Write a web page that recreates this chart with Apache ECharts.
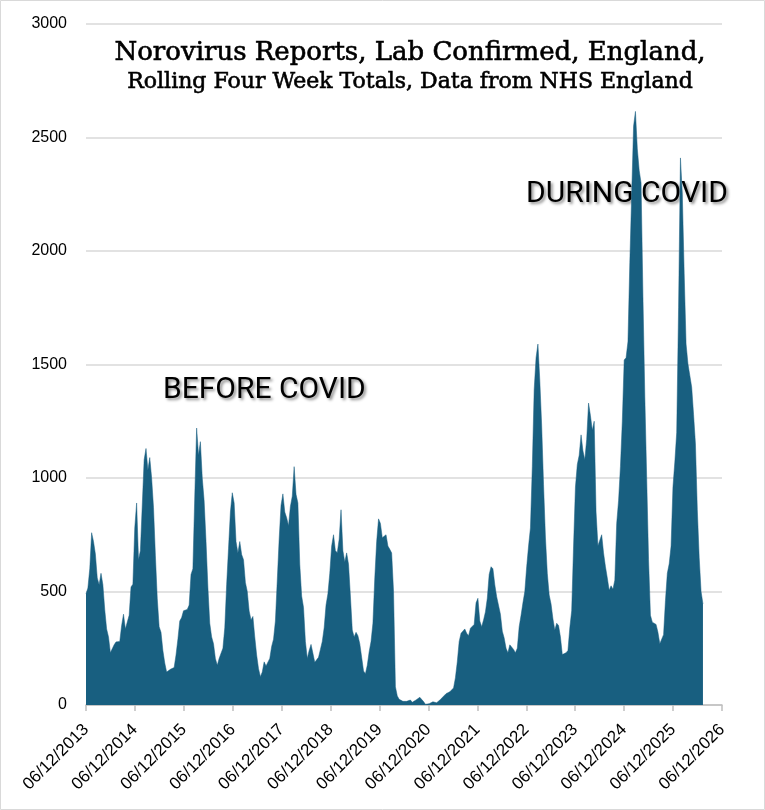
<!DOCTYPE html>
<html>
<head>
<meta charset="utf-8">
<title>Norovirus Reports</title>
<script src="https://cdn.jsdelivr.net/npm/echarts@6/dist/echarts.min.js"></script>
<style>
  html, body { margin: 0; padding: 0; background: #fff; }
  #chart { width: 765px; height: 810px; }
</style>
</head>
<body>
<div id="chart"></div>
<script>
// rolling four week totals, sampled every 14 days from 06/12/2013
var startYear = 2013;
var stepDays = 14;
var yTicks = [0, 500, 1000, 1500, 2000, 2500, 3000];
var cases = [
  490, 515, 600, 759, 720, 665, 560, 530, 580, 530,
  420, 335, 300, 230, 235, 265, 278, 276, 280, 350,
  400, 335, 340, 395, 520, 532, 780, 890, 640, 680,
  880, 1080, 1130, 1035, 1090, 1000, 870, 660, 470, 345,
  320, 240, 185, 145, 153, 157, 155, 165, 220, 290,
  370, 385, 415, 421, 421, 440, 575, 600, 920, 1220,
  1100, 1160, 1000, 900, 722, 520, 360, 300, 270, 205,
  175, 205, 208, 250, 340, 531, 690, 850, 935, 890,
  720, 670, 720, 663, 640, 540, 500, 414, 375, 390,
  300, 220, 160, 125, 145, 190, 172, 167, 205, 258,
  290, 370, 550, 730, 880, 930, 850, 825, 790, 875,
  920, 1050, 928, 890, 620, 480, 430, 280, 205, 240,
  267, 228, 188, 186, 210, 245, 280, 340, 440, 490,
  580, 700, 750, 680, 671, 730, 860, 680, 630, 670,
  620, 480, 330, 300, 320, 305, 270, 210, 150, 138,
  175, 235, 280, 360, 560, 720, 820, 800, 737, 740,
  750, 700, 686, 670, 500, 80, 40, 25, 20, 16,
  10, 16, 22, 22, 12, 15, 22, 28, 34, 28,
  15, 3, 5, 6, 10, 14, 13, 10, 16, 24,
  33, 41, 50, 57, 58, 51, 75, 120, 190, 280,
  316, 310, 335, 316, 305, 338, 343, 355, 450, 470,
  370, 345, 374, 410, 470, 575, 609, 600, 530, 477,
  470, 400, 325, 295, 250, 230, 265, 272, 245, 230,
  250, 345, 395, 450, 500, 609, 700, 780, 1050, 1390,
  1530, 1590, 1430, 1230, 970, 740, 580, 485, 445, 380,
  330, 360, 350, 300, 222, 220, 230, 240, 340, 415,
  700, 960, 1060, 1100, 1190, 1120, 1080, 1170, 1330, 1275,
  1210, 1250, 850, 702, 702, 750, 670, 610, 560, 505,
  525, 510, 550, 800, 900, 1050, 1250, 1520, 1530, 1600,
  1950, 2250, 2550, 2615, 2450, 2355, 2300, 1800, 1360, 1000,
  640, 395, 365, 362, 355, 320, 270, 267, 310, 460,
  580, 622, 700, 960, 1070, 1200, 1750, 2410, 2250, 1900,
  1590, 1503, 1510, 1400, 1280, 1150, 860, 650, 500, 445
];
var yearDays = 365.25;
var yearsShown = 13;

var seriesData = cases.map(function(v, i) {
    return [i * stepDays, v];
});

var myChart = echarts.init(document.getElementById('chart'), null, { renderer: 'canvas' });

var shadowText = function(txt, left, top) {
    return {
        type: 'text',
        left: left,
        top: top,
        style: {
            text: txt,
            font: '30px Roboto',
            fill: '#000',
            textShadowColor: 'rgba(0,0,0,0.45)',
            textShadowBlur: 3,
            textShadowOffsetX: 2,
            textShadowOffsetY: 2
        }
    };
};

// serif title lines, a thin stroke gives them a medium weight
var titleLine = function(txt, y, size) {
    return {
        type: 'text',
        x: 410,
        y: y,
        style: {
            text: txt,
            font: size + 'px "DejaVu Serif"',
            fill: '#000',
            stroke: '#000',
            lineWidth: 0.6,
            align: 'center',
            verticalAlign: 'top'
        }
    };
};

var option = {
    backgroundColor: '#fff',
    animation: false,
    grid: {
        left: 86,
        right: 43,
        top: 24,
        bottom: 105
    },
    graphic: [
        {
            type: 'rect',
            shape: { x: 0.5, y: 0.5, width: 764, height: 809 },
            style: { fill: 'none', stroke: '#d9d9d9', lineWidth: 1 },
            silent: true
        },
        titleLine('Norovirus Reports, Lab Confirmed, England,', 40, 26),
        titleLine('Rolling Four Week Totals, Data from NHS England', 71, 22),
        shadowText('BEFORE COVID', 163, 375),
        shadowText('DURING COVID', 526, 179)
    ],
    xAxis: {
        type: 'value',
        min: 0,
        max: yearDays * yearsShown,
        interval: yearDays,
        axisLine: { show: true, lineStyle: { color: '#bfbfbf', width: 1.5 } },
        axisTick: { show: true, length: 6, lineStyle: { color: '#bfbfbf', width: 1.5 } },
        splitLine: { show: false },
        axisLabel: {
            rotate: 45,
            margin: 22,
            color: '#000',
            fontSize: 17,
            fontFamily: '"Liberation Sans", Arial',
            showMinLabel: true,
            showMaxLabel: true,
            formatter: function(v) {
                return '06/12/' + (startYear + Math.round(v / yearDays));
            }
        }
    },
    yAxis: {
        type: 'value',
        min: yTicks[0],
        max: yTicks[yTicks.length - 1],
        interval: 500,
        axisLine: { show: false },
        axisTick: { show: false },
        splitLine: { lineStyle: { color: '#d9d9d9', width: 1.5 } },
        axisLabel: {
            color: '#000',
            fontSize: 16,
            margin: 19,
            fontFamily: '"Liberation Sans", Arial',
            formatter: function(v) { return String(v); }
        }
    },
    series: [
        {
            name: 'Norovirus reports',
            type: 'line',
            data: seriesData,
            showSymbol: false,
            smooth: false,
            lineStyle: { width: 0.5, color: '#185f80' },
            areaStyle: { color: '#185f80', opacity: 1 }
        }
    ]
};
myChart.setOption(option);
</script>
</body>
</html>
